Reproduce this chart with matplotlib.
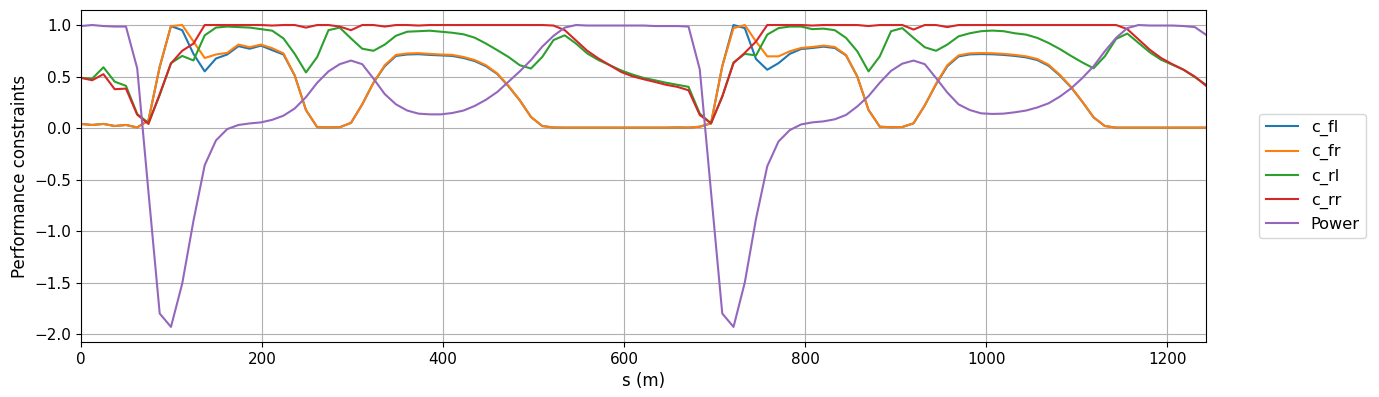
import matplotlib
matplotlib.use('Agg')
import matplotlib.pyplot as plt
import numpy as np

plt.rcParams['font.size'] = 11
plt.rcParams['axes.labelsize'] = 12

# track position, 101 samples over two laps
ds = 12.43
s = np.arange(101) * ds

c_fl = [0.04, 0.03, 0.04, 0.02, 0.03, 0.006, 0.075, 0.594, 0.99, 0.95,
        0.72, 0.55, 0.675, 0.714, 0.795, 0.77, 0.80, 0.756, 0.714, 0.51,
        0.175, 0.008, 0.006, 0.008, 0.05, 0.23, 0.44, 0.60, 0.70, 0.714,
        0.717, 0.71, 0.705, 0.70, 0.68, 0.65, 0.60, 0.525, 0.405, 0.27,
        0.107, 0.02, 0.005, 0.004, 0.004, 0.004, 0.004, 0.004, 0.004, 0.004,
        0.004, 0.004, 0.004, 0.006, 0.004, 0.013, 0.046, 0.60, 1.0, 0.97,
        0.67, 0.566, 0.63, 0.72, 0.767, 0.777, 0.79, 0.777, 0.705, 0.50,
        0.176, 0.013, 0.008, 0.01, 0.046, 0.22, 0.425, 0.60, 0.695, 0.715,
        0.718, 0.716, 0.71, 0.70, 0.686, 0.66, 0.605, 0.51, 0.395, 0.255,
        0.104, 0.02, 0.004, 0.004, 0.004, 0.004, 0.004, 0.004, 0.004, 0.004,
        0.004]

c_fr = [0.04, 0.03, 0.04, 0.02, 0.03, 0.006, 0.075, 0.594, 0.99, 1.0,
        0.84, 0.68, 0.714, 0.73, 0.81, 0.785, 0.81, 0.775, 0.725, 0.51,
        0.175, 0.008, 0.006, 0.008, 0.05, 0.23, 0.44, 0.61, 0.71, 0.724,
        0.727, 0.72, 0.714, 0.71, 0.69, 0.66, 0.61, 0.53, 0.41, 0.27,
        0.107, 0.02, 0.005, 0.004, 0.004, 0.004, 0.004, 0.004, 0.004, 0.004,
        0.004, 0.004, 0.004, 0.006, 0.004, 0.013, 0.046, 0.60, 0.97, 1.0,
        0.84, 0.696, 0.696, 0.745, 0.777, 0.787, 0.80, 0.787, 0.71, 0.50,
        0.176, 0.013, 0.008, 0.01, 0.046, 0.22, 0.43, 0.61, 0.705, 0.725,
        0.728, 0.726, 0.72, 0.71, 0.696, 0.67, 0.615, 0.517, 0.40, 0.257,
        0.104, 0.02, 0.004, 0.004, 0.004, 0.004, 0.004, 0.004, 0.004, 0.004,
        0.004]

c_rl = [0.487, 0.48, 0.59, 0.45, 0.41, 0.136, 0.05, 0.32, 0.63, 0.70,
        0.656, 0.90, 0.975, 0.985, 0.98, 0.975, 0.96, 0.945, 0.87, 0.72,
        0.54, 0.69, 0.95, 0.975, 0.87, 0.77, 0.75, 0.81, 0.896, 0.935,
        0.94, 0.945, 0.935, 0.925, 0.91, 0.877, 0.82, 0.756, 0.69, 0.61,
        0.578, 0.69, 0.854, 0.90, 0.82, 0.724, 0.66, 0.61, 0.56, 0.52,
        0.487, 0.464, 0.44, 0.42, 0.40, 0.14, 0.046, 0.306, 0.637, 0.72,
        0.705, 0.907, 0.97, 0.985, 0.985, 0.96, 0.965, 0.95, 0.875, 0.745,
        0.55, 0.696, 0.94, 0.97, 0.875, 0.784, 0.75, 0.81, 0.89, 0.92,
        0.94, 0.946, 0.94, 0.92, 0.907, 0.875, 0.826, 0.767, 0.70, 0.637,
        0.58, 0.696, 0.865, 0.917, 0.826, 0.735, 0.663, 0.615, 0.566, 0.494,
        0.42]

c_rr = [0.487, 0.464, 0.523, 0.377, 0.383, 0.13, 0.04, 0.33, 0.627, 0.75,
        0.82, 1.0, 1.0, 1.0, 1.0, 1.0, 1.0, 0.995, 1.0, 1.0,
        0.975, 1.0, 1.0, 0.985, 0.95, 1.0, 1.0, 0.985, 1.0, 1.0,
        0.995, 1.0, 1.0, 1.0, 1.0, 1.0, 1.0, 1.0, 1.0, 1.0,
        1.0, 1.0, 0.995, 0.95, 0.85, 0.75, 0.675, 0.61, 0.545, 0.503,
        0.474, 0.448, 0.42, 0.40, 0.367, 0.127, 0.046, 0.306, 0.63, 0.73,
        0.84, 1.0, 1.0, 1.0, 1.0, 0.995, 1.0, 1.0, 1.0, 1.0,
        0.99, 1.0, 1.0, 1.0, 0.956, 1.0, 1.0, 0.98, 1.0, 1.0,
        1.0, 1.0, 1.0, 1.0, 1.0, 1.0, 1.0, 1.0, 1.0, 1.0,
        1.0, 1.0, 1.0, 0.96, 0.86, 0.76, 0.68, 0.62, 0.566, 0.50,
        0.41]

power = [0.99, 1.0, 0.99, 0.985, 0.985, 0.58, -0.62, -1.80, -1.93, -1.51,
         -0.90, -0.36, -0.12, -0.01, 0.03, 0.045, 0.055, 0.08, 0.12, 0.19,
         0.30, 0.44, 0.55, 0.62, 0.655, 0.62, 0.48, 0.33, 0.23, 0.17,
         0.14, 0.133, 0.133, 0.146, 0.17, 0.215, 0.275, 0.35, 0.45, 0.55,
         0.66, 0.79, 0.895, 0.975, 1.0, 0.995, 0.995, 0.995, 0.995, 0.995,
         0.995, 0.99, 0.99, 0.99, 0.985, 0.57, -0.62, -1.80, -1.93, -1.50,
         -0.88, -0.37, -0.13, -0.02, 0.035, 0.055, 0.065, 0.085, 0.127, 0.21,
         0.31, 0.44, 0.555, 0.625, 0.655, 0.62, 0.485, 0.345, 0.23, 0.175,
         0.143, 0.137, 0.14, 0.153, 0.17, 0.20, 0.24, 0.305, 0.385, 0.485,
         0.60, 0.745, 0.875, 0.97, 1.0, 0.995, 0.995, 0.995, 0.99, 0.98,
         0.905]


fig, ax = plt.subplots(1, 1, figsize=(13.79, 3.97), dpi=100)
fig.subplots_adjust(left=0.0587, right=0.8746, bottom=0.1385, top=0.975)

ax.plot(s, c_fl, label='c_fl')
ax.plot(s, c_fr, label='c_fr')
ax.plot(s, c_rl, label='c_rl')
ax.plot(s, c_rr, label='c_rr')
ax.plot(s, power, label='Power')

ax.set_xlim(0, s[-1])
ax.set_xlabel('s (m)')
ax.set_ylabel('Performance constraints')
ax.grid(True)
ax.legend(loc='center left', bbox_to_anchor=(1.04, 0.5), fontsize=11.6)

fig.savefig('out.png', dpi=100)
